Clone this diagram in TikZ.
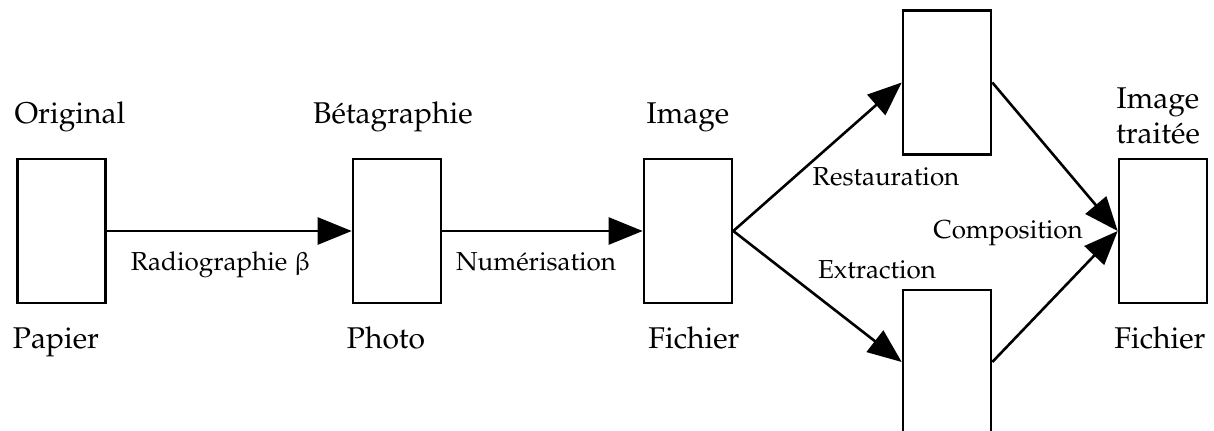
\documentclass[tikz,border=0pt]{standalone}
\usepackage[T1]{fontenc}
\usepackage{mathpazo}
\usepackage{upgreek}
\usepackage{tikz}
\usetikzlibrary{arrows.meta,positioning}

\begin{document}
\begin{tikzpicture}[x=0.5pt,y=-0.5pt,>={Triangle[length=17pt,width=13.5pt]},
  every node/.style={align=center,font=\fontsize{15}{17.5}\selectfont},
  stage/.style={draw,line width=1.3pt,minimum width=44pt,minimum height=72pt,inner sep=0pt},
  tag/.style={anchor=base},
  op/.style={anchor=base,font=\fontsize{13}{15}\selectfont}]
  \useasboundingbox (0,0) rectangle (1214,430);
  % the six stages
  \node[stage] (orig) at (61.5,231) {};
  \node[stage] (beta) at (397,231) {};
  \node[stage] (img)  at (688,231) {};
  \node[stage] (rest) at (947,82.5) {};
  \node[stage] (extr) at (947,362) {};
  \node[stage] (res)  at (1163,231) {};
  % what each stage is
  \node[tag] (orig-top) at (70,123) {Original};
  \node[tag] (beta-top) at (393,123) {B\'etagraphie};
  \node[tag] (img-top)  at (688,123) {Image};
  \node[tag] (res-top)  at (1158,143) {Image\\trait\'ee};
  \node[tag] (orig-bot) at (56,348) {Papier};
  \node[tag] (beta-bot) at (386,348) {Photo};
  \node[tag] (img-bot)  at (694,348) {Fichier};
  \node[tag] (res-bot)  at (1160,348) {Fichier};
  % operations
  \draw[->,line width=1.3pt] (orig.east) -- (beta.west);
  \draw[->,line width=1.3pt] (beta.east) -- (img.west);
  \draw[->,line width=1.3pt] (img.east) -- (rest.west);
  \draw[->,line width=1.3pt] (img.east) -- (extr.west);
  \draw[->,line width=1.3pt] (rest.east) -- (res.west);
  \draw[->,line width=1.3pt] (extr.east) -- (res.west);
  \node[op] (radio) at (221,270) {Radiographie $\upbeta$};
  \node[op] (num)   at (536,270) {Num\'erisation};
  \node[op] (resto) at (886,185) {Restauration};
  \node[op] (extra) at (877,278) {Extraction};
  \node[op] (compo) at (1008,238) {Composition};
\end{tikzpicture}
\end{document}
